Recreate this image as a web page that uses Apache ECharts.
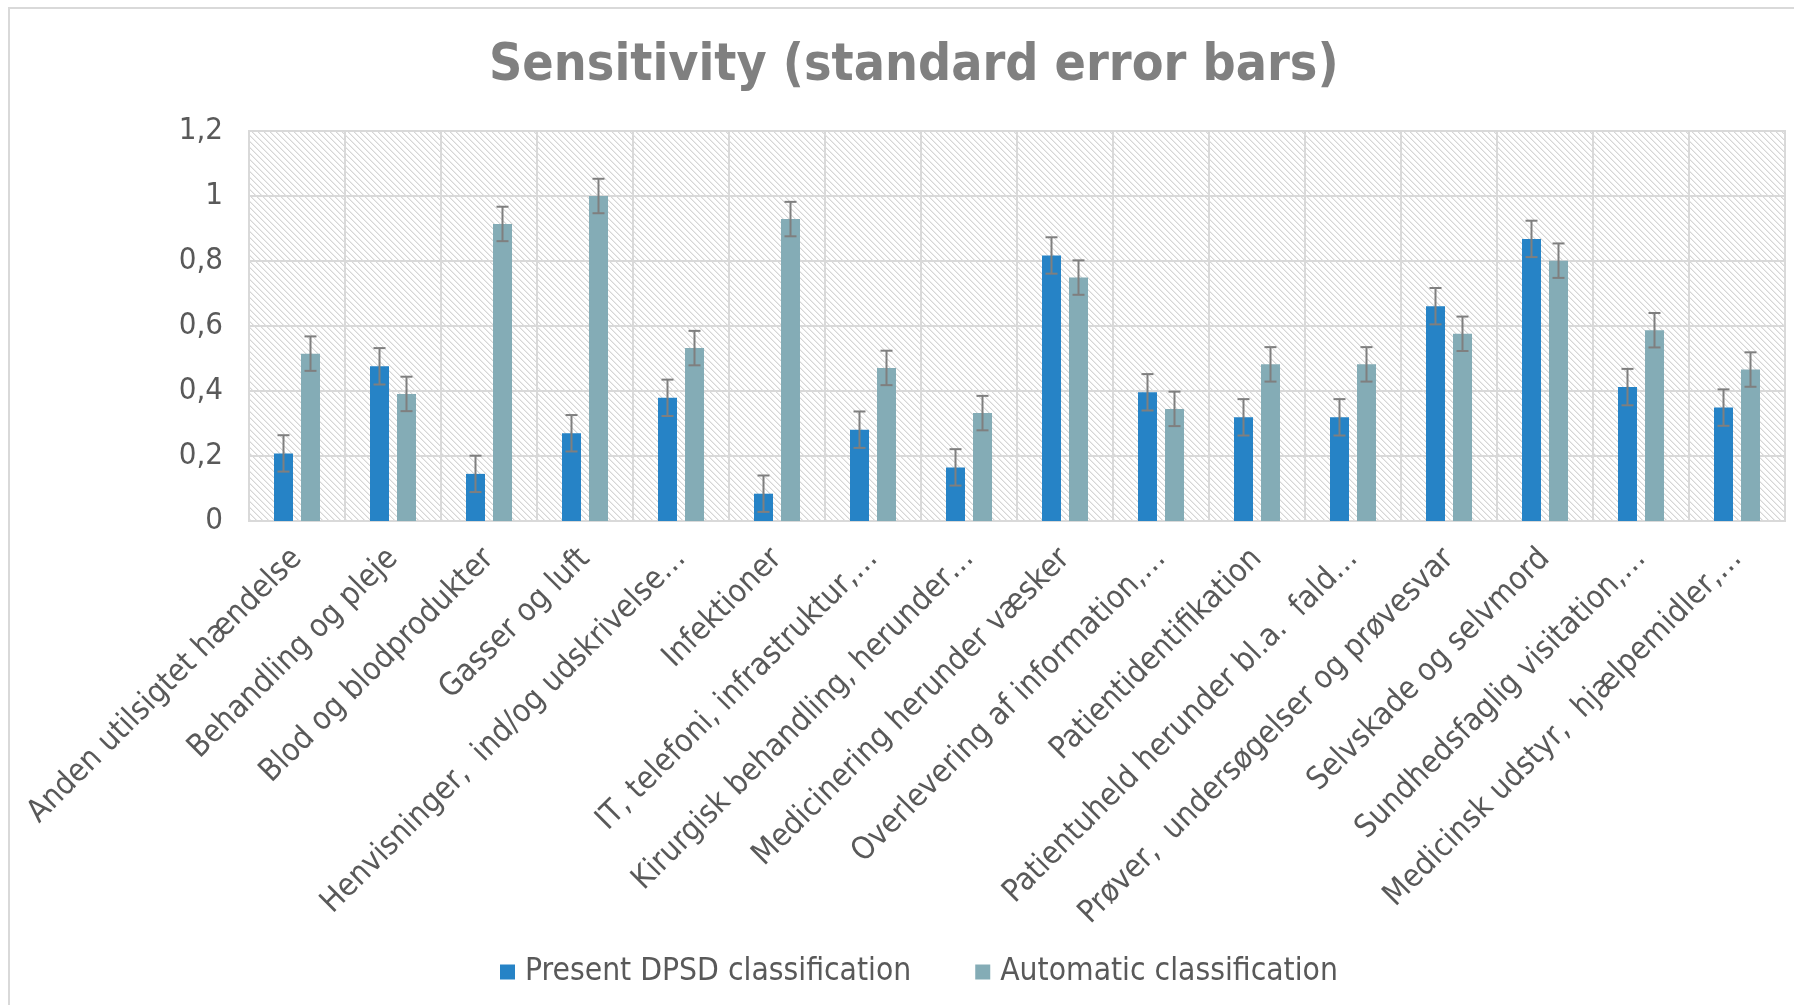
<!DOCTYPE html>
<html>
<head>
<meta charset="utf-8">
<script src="https://cdn.jsdelivr.net/npm/echarts@6/dist/echarts.min.js"></script>
<style>
html,body{margin:0;padding:0;background:#fff;}
#c{width:1794px;height:1005px;}
</style>
</head>
<body>
<div id="c"></div>
<script>
const categories = [
  "Anden utilsigtet hændelse",
  "Behandling og pleje",
  "Blod og blodprodukter",
  "Gasser og luft",
  "Henvisninger,  ind/og udskrivelse…",
  "Infektioner",
  "IT, telefoni, infrastruktur,…",
  "Kirurgisk behandling, herunder…",
  "Medicinering herunder væsker",
  "Overlevering af information,…",
  "Patientidentifikation",
  "Patientuheld herunder bl.a.  fald…",
  "Prøver,  undersøgelser og prøvesvar",
  "Selvskade og selvmord",
  "Sundhedsfaglig visitation,…",
  "Medicinsk udstyr,  hjælpemidler,…"
];
const seriesNames = ["Present DPSD classification", "Automatic classification"];
const presentValues = [0.208, 0.476, 0.145, 0.270, 0.379, 0.084, 0.281, 0.165, 0.817, 0.396, 0.319, 0.319, 0.661, 0.868, 0.412, 0.349];
const automaticValues = [0.515, 0.391, 0.914, 1.000, 0.532, 0.929, 0.471, 0.332, 0.749, 0.345, 0.482, 0.482, 0.576, 0.801, 0.587, 0.466];
const presentErrors = [0.056, 0.056, 0.056, 0.056, 0.056, 0.056, 0.056, 0.056, 0.056, 0.056, 0.056, 0.056, 0.056, 0.056, 0.056, 0.056];
const automaticErrors = [0.053, 0.053, 0.053, 0.053, 0.053, 0.053, 0.053, 0.053, 0.053, 0.053, 0.053, 0.053, 0.053, 0.053, 0.053, 0.053];
const yTicks = { min: 0, max: 1.2, interval: 0.2 };
const title = "Sensitivity (standard error bars)";

// hatch pattern
const pc = document.createElement('canvas');
pc.width = 6; pc.height = 6;
const pctx = pc.getContext('2d');
pctx.fillStyle = '#ffffff';
pctx.fillRect(0, 0, 6, 6);
for (let i = 0; i < 6; i++) {
  pctx.fillStyle = '#d6d6d6';
  pctx.fillRect(i, i, 1, 1);
  pctx.fillStyle = '#ececec';
  pctx.fillRect((i + 1) % 6, i, 1, 1);
}

const BAR_W = 19, BAR_GAP = 8;
const FONT = "'DejaVu Sans Condensed', 'DejaVu Sans', sans-serif";

function errSeries(id, values, errs, offset) {
  return {
    type: 'custom',
    name: id,
    silent: true,
    z: 10,
    encode: { x: 0, y: 1 },
    data: values.map((v, i) => [i, v, errs[i]]),
    renderItem: function (params, api) {
      const i = api.value(0), v = api.value(1), e = api.value(2);
      const top = api.coord([i, v + e]);
      const bot = api.coord([i, v - e]);
      const x = top[0] + offset;
      const st = { stroke: '#7f7f7f', lineWidth: 2 };
      return {
        type: 'group',
        children: [
          { type: 'line', shape: { x1: x, y1: top[1], x2: x, y2: bot[1] }, style: st },
          { type: 'line', shape: { x1: x - 6, y1: top[1], x2: x + 6, y2: top[1] }, style: st },
          { type: 'line', shape: { x1: x - 6, y1: bot[1], x2: x + 6, y2: bot[1] }, style: st }
        ]
      };
    }
  };
}

const chart = echarts.init(document.getElementById('c'), null, { renderer: 'canvas' });
const half = (BAR_W + BAR_GAP) / 2;
chart.setOption({
  animation: false,
  backgroundColor: '#ffffff',
  graphic: [{
    type: 'rect',
    shape: { x: 9, y: 8, width: 1800, height: 1010 },
    style: { fill: null, stroke: '#d9d9d9', lineWidth: 2 },
    silent: true
  }],
  title: {
    text: title,
    left: 484,
    top: 36,
    textStyle: { fontFamily: FONT, fontWeight: 'bold', fontSize: 51.5, color: '#808080' }
  },
  legend: {
    data: seriesNames,
    left: 495,
    top: 951,
    icon: 'rect',
    itemWidth: 15,
    itemHeight: 15,
    itemGap: 64,
    textStyle: { fontFamily: FONT, fontSize: 31.5, color: '#595959', padding: [0, 0, 0, 5] }
  },
  grid: {
    left: 249, right: 9, top: 131, bottom: 484,
    show: true,
    borderColor: '#d9d9d9',
    borderWidth: 2,
    backgroundColor: { image: pc, repeat: 'repeat' }
  },
  xAxis: {
    type: 'category',
    data: categories,
    axisLine: { show: true, lineStyle: { color: '#d9d9d9', width: 2 } },
    axisTick: { show: false },
    splitLine: { show: true, interval: 0, lineStyle: { color: '#d9d9d9', width: 2 } },
    axisLabel: { interval: 0, rotate: 45, margin: 33, fontFamily: FONT, fontSize: 31.5, color: '#595959' }
  },
  yAxis: {
    type: 'value',
    min: yTicks.min, max: yTicks.max, interval: yTicks.interval,
    axisLine: { show: false },
    axisTick: { show: false },
    splitLine: { show: true, lineStyle: { color: '#d9d9d9', width: 2 } },
    axisLabel: {
      margin: 26, fontFamily: FONT, fontSize: 31, color: '#595959',
      formatter: v => String(+v.toFixed(1)).replace('.', ',')
    }
  },
  series: [
    { type: 'bar', name: seriesNames[0], data: presentValues, barWidth: BAR_W, barGap: (BAR_GAP / BAR_W * 100) + '%', itemStyle: { color: '#2683c6' } },
    { type: 'bar', name: seriesNames[1], data: automaticValues, barWidth: BAR_W, itemStyle: { color: '#84acb6' } },
    errSeries('err0', presentValues, presentErrors, -half),
    errSeries('err1', automaticValues, automaticErrors, half)
  ]
});
</script>
</body>
</html>
